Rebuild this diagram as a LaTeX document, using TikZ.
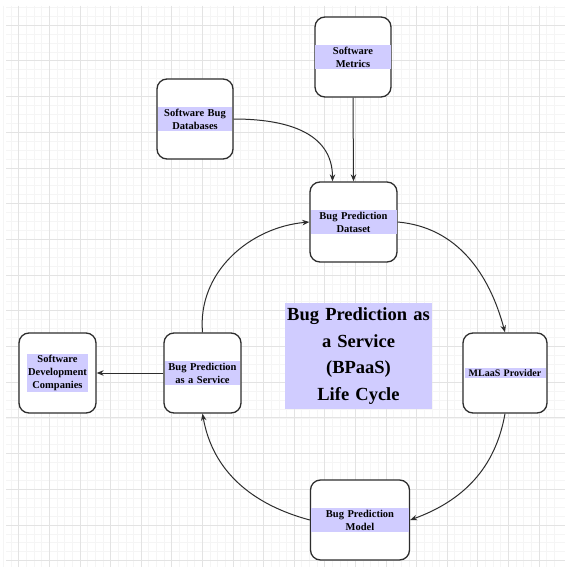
\documentclass[tikz,border=0pt]{standalone}
\usepackage{fontspec}
\setmainfont{Liberation Serif}
\usetikzlibrary{arrows.meta}
\definecolor{hl}{RGB}{208,204,255}
\definecolor{edge}{RGB}{45,45,45}
\begin{document}
\begin{tikzpicture}[x=1pt,y=-1pt,
  box/.style={draw=edge,line width=1.3pt,rounded corners=10pt,fill=white,inner sep=0pt},
  lbl/.style={fill=hl,inner xsep=1pt,inner ysep=1.5pt,align=center,font=\bfseries\fontsize{10.5}{13}\selectfont},
  conn/.style={draw=edge,line width=1pt,-{Stealth[length=7pt,width=5.5pt]}}]
\useasboundingbox (0,0) rectangle (565,567);
\fill[white] (0,0) rectangle (565,567);
% grid
\foreach \i in {0,...,72} {\draw[black!4,line width=0.4pt] ({18.6+7.65*(\i-2)},6) -- ({18.6+7.65*(\i-2)},567);}
\foreach \j in {0,...,64} {\draw[black!4,line width=0.4pt] (6,{25+8.925*(\j-2)}) -- (565,{25+8.925*(\j-2)});}
\foreach \i in {0,...,17} {\draw[black!11,line width=0.5pt] ({18.6+30.6*\i},6) -- ({18.6+30.6*\i},567);}
\foreach \j in {0,...,15} {\draw[black!11,line width=0.5pt] (6,{25+35.7*\j}) -- (565,{25+35.7*\j});}
% boxes
\node[box,minimum width=76pt,minimum height=80pt] (met) at (353,57) {};
\node[lbl,text width=74pt] (metl) at (met.center) {Software\\Metrics};
\node[box,minimum width=76pt,minimum height=80pt] (db) at (195,119) {};
\node[lbl,text width=72pt] (dbl) at (db.center) {Software Bug\\Databases};
\node[box,minimum width=87pt,minimum height=80pt] (ds) at (353.5,222) {};
\node[lbl,text width=84pt] (dsl) at (ds.center) {Bug Prediction\\Dataset};
\node[box,minimum width=84pt,minimum height=80pt] (ml) at (505,373) {};
\node[lbl,text width=79pt,font=\bfseries\fontsize{10}{13}\selectfont] (mll) at (ml.center) {MLaaS Provider};
\node[box,minimum width=99pt,minimum height=80pt] (mod) at (360,520) {};
\node[lbl,text width=96pt] (modl) at (mod.center) {Bug Prediction\\Model};
\node[box,minimum width=77pt,minimum height=80pt] (bp) at (202.5,373) {};
\node[lbl,text width=73pt] (bpl) at (bp.center) {Bug Prediction\\as a Service};
\node[box,minimum width=77pt,minimum height=80pt] (co) at (57.5,373) {};
\node[lbl] (col) at (co.center) {Software\\Development\\Companies};
\node[fill=hl,inner sep=0pt,text width=147pt,minimum height=106pt,align=center,
  font=\bfseries\fontsize{18.5}{26.5}\selectfont] (title) at (358.5,356) {Bug Prediction as\\a Service\\(BPaaS)\\Life Cycle};
% connectors
\draw[conn] (met.south) -- (ds.north);
\draw[conn] (db.east) to[out=0,in=90,looseness=1.1] ([xshift=-21pt]ds.north);
\draw[conn] (ds.east) to[out=-5,in=105,looseness=1] (ml.north);
\draw[conn] (ml.south) to[out=-100,in=20,looseness=1] (mod.east);
\draw[conn] (mod.west) to[out=165,in=-80,looseness=1] (bp.south);
\draw[conn] (bp.north) to[out=95,in=185,looseness=1] (ds.west);
\draw[conn] (bp.west) -- (co.east);
\end{tikzpicture}
\end{document}
